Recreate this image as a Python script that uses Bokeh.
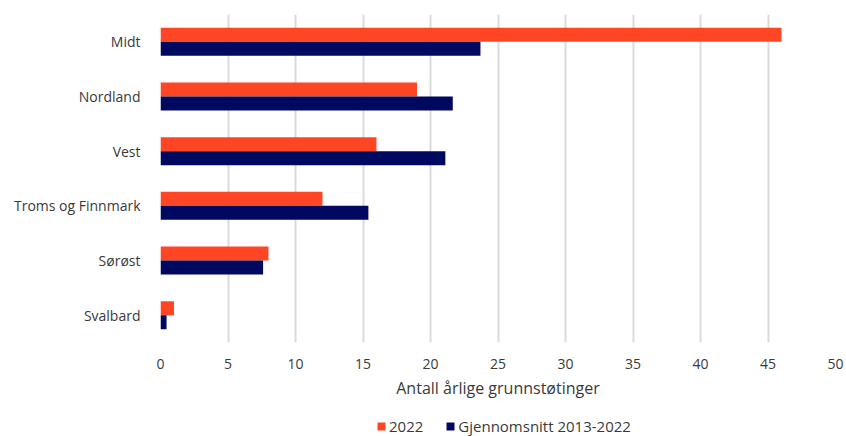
from bokeh.plotting import figure
from bokeh.layouts import column
from bokeh.models import FactorRange, Range1d, Legend, LegendItem, FixedTicker, ColumnDataSource
from bokeh.transform import dodge
from bokeh.embed import file_html
from bokeh.resources import INLINE

regions = ["Midt", "Nordland", "Vest", "Troms og Finnmark", "Sørøst", "Svalbard"]
y2022 = [46, 19, 16, 12, 8, 1]
avg_2013_2022 = [23.7, 21.65, 21.1, 15.4, 7.6, 0.45]
series_names = ["2022", "Gjennomsnitt 2013-2022"]
x_ticks = [0, 5, 10, 15, 20, 25, 30, 35, 40, 45, 50]

FONT = "Open Sans"
TXT = "#3a3a3a"
C1 = "#FF4624"
C2 = "#00085F"

src = ColumnDataSource(dict(region=regions, a=y2022, b=avg_2013_2022))

p = figure(width=846, height=416, output_backend="svg", toolbar_location=None,
           y_range=FactorRange(factors=list(reversed(regions)), range_padding=0),
           x_range=Range1d(0, 50),
           min_border_left=160, min_border_right=11, min_border_top=14, min_border_bottom=74)

r1 = p.hbar(y=dodge("region", 0.128, range=p.y_range), right="a", left=0, height=0.256,
            source=src, color=C1, line_color=None)
r2 = p.hbar(y=dodge("region", -0.128, range=p.y_range), right="b", left=0, height=0.256,
            source=src, color=C2, line_color=None)

p.outline_line_color = None
p.ygrid.grid_line_color = None
p.xgrid.grid_line_color = "#dadada"
p.xgrid.grid_line_width = 2
p.xaxis.ticker = FixedTicker(ticks=x_ticks)
p.xaxis.axis_line_color = None
p.xaxis.major_tick_line_color = None
p.xaxis.minor_tick_line_color = None
p.xaxis.major_label_text_font = FONT
p.xaxis.major_label_text_font_size = "14px"
p.xaxis.major_label_text_color = TXT
p.xaxis.major_label_standoff = 10
p.xaxis.axis_label = "Antall årlige grunnstøtinger"
p.xaxis.axis_label_text_font = FONT
p.xaxis.axis_label_text_font_size = "16px"
p.xaxis.axis_label_text_font_style = "normal"
p.xaxis.axis_label_text_color = TXT
p.xaxis.axis_label_standoff = 5

p.yaxis.axis_line_color = None
p.yaxis.major_tick_line_color = None
p.yaxis.minor_tick_line_color = None
p.yaxis.major_label_text_font = FONT
p.yaxis.major_label_text_font_size = "14px"
p.yaxis.major_label_text_color = TXT
p.yaxis.major_label_standoff = 14

# Legend in its own strip below the chart (same glyphs, hidden, used only as legend keys)
pl = figure(width=846, height=20, output_backend="svg", toolbar_location=None,
            x_range=Range1d(0, 50),
            y_range=FactorRange(factors=list(reversed(regions)), range_padding=0),
            min_border_left=0, min_border_right=0, min_border_top=0, min_border_bottom=0)
pl.axis.visible = False
pl.grid.visible = False
pl.outline_line_color = None
lr1 = pl.hbar(y=dodge("region", 0.128, range=pl.y_range), right="a", left=0, height=0.256,
              source=src, color=C1, line_color=None, visible=False)
lr2 = pl.hbar(y=dodge("region", -0.128, range=pl.y_range), right="b", left=0, height=0.256,
              source=src, color=C2, line_color=None, visible=False)

legend = Legend(items=[LegendItem(label=series_names[0], renderers=[lr1]),
                       LegendItem(label=series_names[1], renderers=[lr2])],
                orientation="horizontal", location=(216, 0),
                label_text_font=FONT, label_text_font_size="15px", label_text_color=TXT,
                glyph_width=10, glyph_height=10, label_height=14, spacing=22, label_standoff=3,
                inactive_fill_alpha=0,
                border_line_color=None, background_fill_alpha=0, margin=0, padding=0)
pl.add_layout(legend)

open("out.html", "w").write(file_html(column(p, pl), INLINE))
